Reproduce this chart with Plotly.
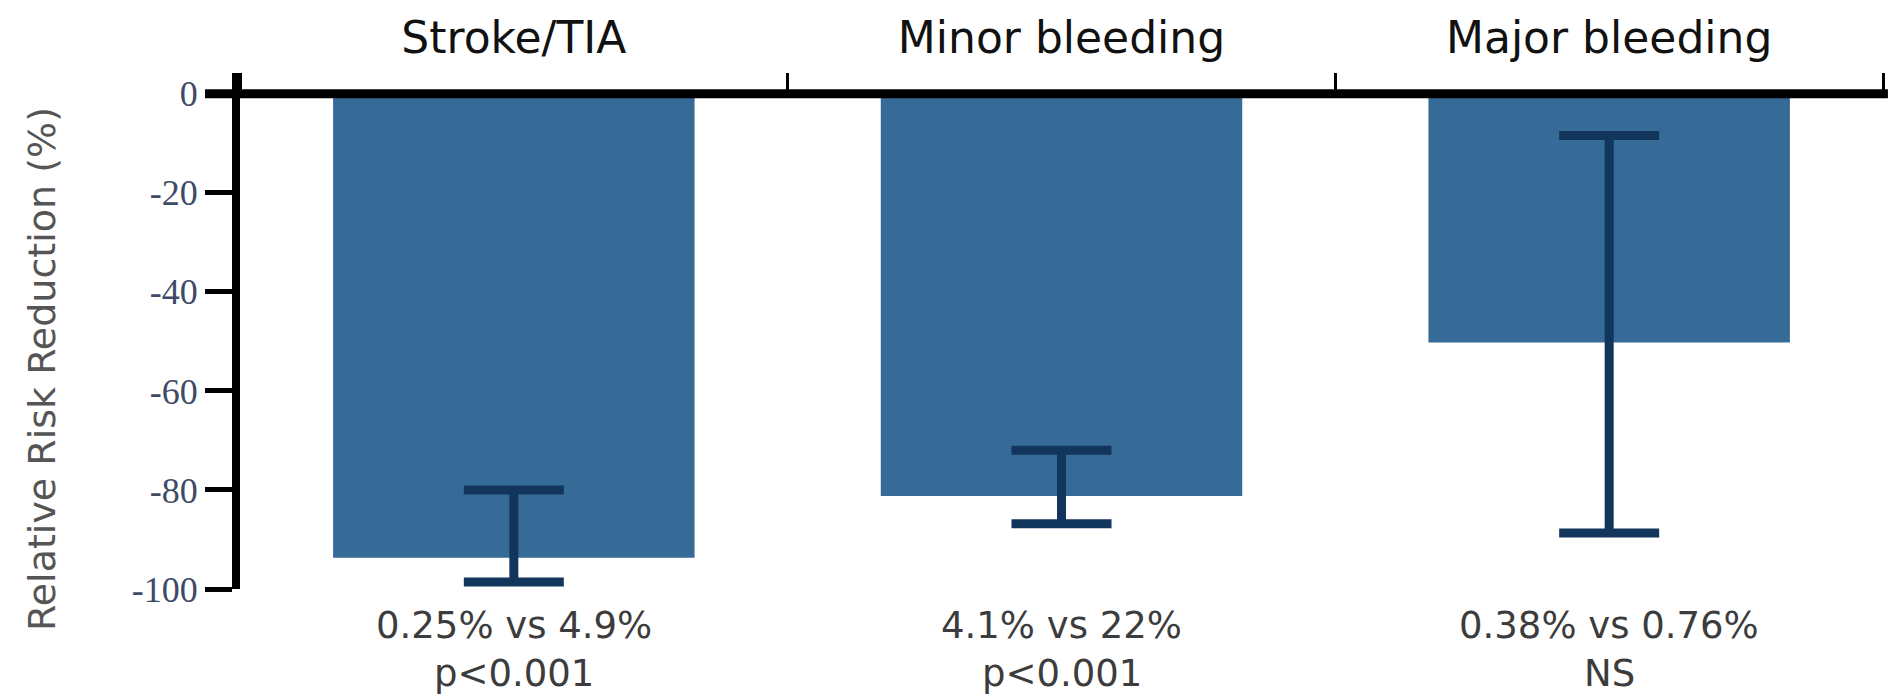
import plotly.graph_objects as go

# ---- data ----
categories = ["Stroke/TIA", "Minor bleeding", "Major bleeding"]
rrr = [-93.7, -81.2, -50.2]          # relative risk reduction (%)
ci_upper = [-80.0, -72.0, -8.4]      # upper end of interval (less negative)
ci_lower = [-98.6, -86.8, -88.7]     # lower end of interval (more negative)
rate_labels = ["0.25% vs 4.9%", "4.1% vs 22%", "0.38% vs 0.76%"]
p_labels = ["p<0.001", "p<0.001", "NS"]
y_tickvals = [0, -20, -40, -60, -80, -100]
y_ticktext = ["0", "-20", "-40", "-60", "-80", "-100"]
y_title = "Relative Risk Reduction (%)"

err_plus = [u - v for u, v in zip(ci_upper, rrr)]
err_minus = [v - l for v, l in zip(rrr, ci_lower)]

W, H = 1896, 699
L, R, T, B = 240, 13, 73, 110
plot_h = H - T - B
plot_w = W - L - R
y_top = 4.2
y_bot = -100


def py(pix):
    # pixel row -> paper y
    return (H - B - pix) / plot_h


def px(pix):
    return (pix - L) / plot_w


fig = go.Figure()
fig.add_trace(go.Bar(
    x=categories, y=rrr, width=0.66,
    marker=dict(color="#366a97", line=dict(width=0)),
    error_y=dict(type="data", symmetric=False, array=err_plus, arrayminus=err_minus,
                 color="#12355b", thickness=9, width=50),
    showlegend=False,
))

# zero line (thick, above bars)
fig.add_shape(type="line", xref="paper", yref="y", x0=px(205), x1=1.003, y0=0, y1=0,
              line=dict(color="black", width=9), layer="above")

# bottom annotations
for c, r, p in zip(categories, rate_labels, p_labels):
    fig.add_annotation(x=c, xref="x", y=py(625), yref="paper", text=r, showarrow=False,
                       yanchor="middle", borderpad=0,
                       font=dict(family="DejaVu Sans", size=37, color="#3c3c3c"))
    fig.add_annotation(x=c, xref="x", y=py(673), yref="paper", text=p, showarrow=False,
                       yanchor="middle", borderpad=0,
                       font=dict(family="DejaVu Sans", size=37, color="#3c3c3c"))

# y title
fig.add_annotation(x=px(42), xref="paper", y=py(369), yref="paper", text=y_title, textangle=-90,
                   showarrow=False, xanchor="center", yanchor="middle",
                   font=dict(family="DejaVu Sans", size=38, color="#555555"))

fig.update_layout(
    width=W, height=H,
    margin=dict(l=L, r=R, t=T, b=B, pad=0),
    paper_bgcolor="white", plot_bgcolor="white",
    bargap=0.34,
    xaxis=dict(
        side="top", anchor="free", position=(0 - y_bot) / (y_top - y_bot),
        range=[-0.5, 2.5], showline=False, showgrid=False, zeroline=False,
        ticks="outside", tickson="boundaries", ticklen=21, tickwidth=3, tickcolor="black",
        tickfont=dict(family="DejaVu Sans", size=44, color="#111111"),
        ticklabelstandoff=32,
    ),
    yaxis=dict(
        range=[y_bot, y_top], showline=True, linewidth=8, linecolor="black",
        showgrid=False, zeroline=False,
        ticks="outside", ticklen=27, tickwidth=5, tickcolor="black",
        tickvals=y_tickvals, ticktext=y_ticktext,
        tickfont=dict(family="Liberation Serif", size=36, color="#3d4b66"),
    ),
)

fig.write_html("out.html")
